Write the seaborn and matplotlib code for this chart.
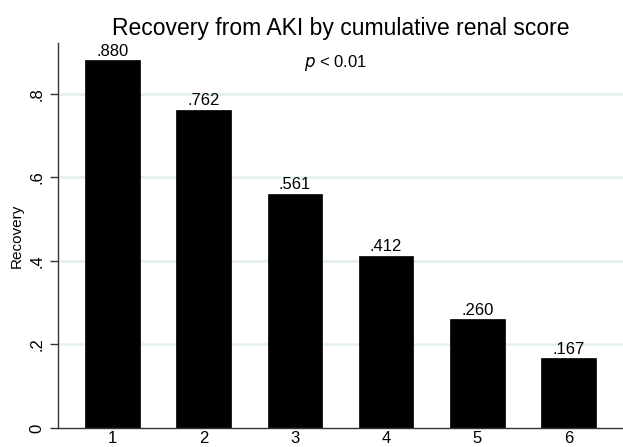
import pandas as pd
import seaborn as sns
import matplotlib.pyplot as plt

# Dati: punteggio renale cumulativo e quota di recupero
scores = ["1", "2", "3", "4", "5", "6"]
recovery = [0.880, 0.762, 0.561, 0.412, 0.260, 0.167]
yticks = [0, 0.2, 0.4, 0.6, 0.8]
ytick_labels = ["0", ".2", ".4", ".6", ".8"]

df = pd.DataFrame({"score": scores, "recovery": recovery})

sns.set_style("white")
plt.rcParams['font.family'] = ['Liberation Sans', 'DejaVu Sans']
plt.rcParams['text.color'] = 'black'
plt.rcParams['axes.labelcolor'] = 'black'
plt.rcParams['xtick.color'] = 'black'
plt.rcParams['ytick.color'] = 'black'

fig = plt.figure(figsize=(6.23, 4.47), dpi=100)
ax = fig.add_axes([0.0931, 0.0425, 0.9069, 0.8615])

sns.barplot(data=df, x="score", y="recovery", color="black", width=0.6,
            saturation=1, edgecolor="black", linewidth=0.5, ax=ax, zorder=3)

# griglia orizzontale stile Stata
for y in yticks[1:]:
    ax.axhline(y, color="#e4eff1", lw=1.8, zorder=1)

# etichette sopra le barre
for i, v in enumerate(recovery):
    ax.text(i, v + 0.004, f"{v:.3f}".lstrip("0"), ha="center", va="bottom",
            fontsize=12, zorder=4)

ax.text(2.45, 0.874, r"$\it{p}$ < 0.01", ha="center", va="center", fontsize=12)

ax.set_xlim(-0.6, 5.6)
ax.set_ylim(0, 0.922)
ax.set_yticks(yticks)
ax.set_yticklabels(ytick_labels, rotation=90, va="center", fontsize=12)
ax.tick_params(axis="x", labelsize=12, length=0, pad=2)
ax.tick_params(axis="y", length=6, width=1, color="#333333", left=True, pad=4)
ax.set_xlabel("")
ax.set_ylabel("Recovery", fontsize=11, labelpad=4)
ax.set_title("Recovery from AKI by cumulative renal score", fontsize=16.5, pad=6)

sns.despine(ax=ax)
for s in ["left", "bottom"]:
    ax.spines[s].set_color("#333333")
    ax.spines[s].set_linewidth(1)
    ax.spines[s].set_zorder(5)

fig.savefig("out.png", dpi=100)
